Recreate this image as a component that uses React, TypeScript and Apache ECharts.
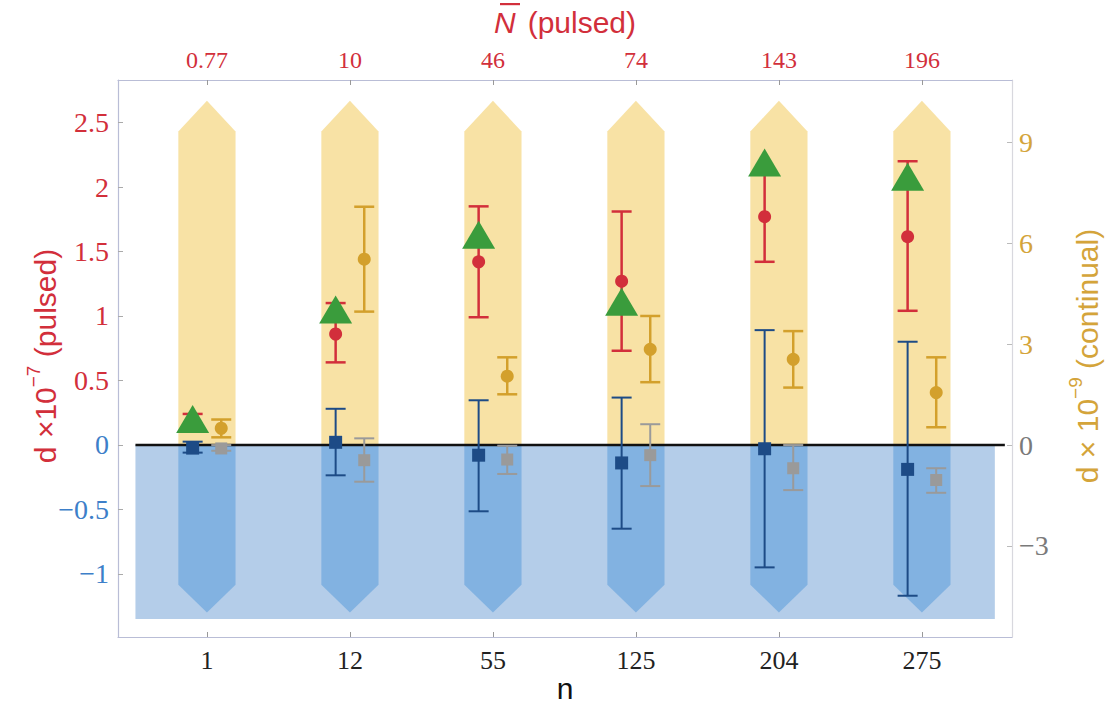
import React, { useEffect, useRef } from "react";
import * as echarts from "echarts";

// ---- data ----
const nLabels = ["1", "12", "55", "125", "204", "275"];
const nbarLabels = ["0.77", "10", "46", "74", "143", "196"];

// pulsed (left axis, ×10^-7)
const pulsedRed = [0.18, 0.86, 1.42, 1.27, 1.77, 1.615];
const pulsedRedLow = [0.13, 0.64, 0.99, 0.73, 1.42, 1.04];
const pulsedRedHigh = [0.24, 1.1, 1.85, 1.81, 2.12, 2.2];
const pulsedGreen = [0.2, 1.05, 1.63, 1.11, 2.19, 2.08];
const pulsedBlue = [-0.025, 0.02, -0.08, -0.14, -0.03, -0.19];
const pulsedBlueLow = [-0.06, -0.236, -0.515, -0.65, -0.95, -1.17];
const pulsedBlueHigh = [0.025, 0.28, 0.346, 0.367, 0.89, 0.8];

// continual (right axis, ×10^-9)
const contGold = [0.5, 5.53, 2.05, 2.85, 2.55, 1.56];
const contGoldLow = [0.23, 3.97, 1.51, 1.87, 1.71, 0.53];
const contGoldHigh = [0.76, 7.09, 2.61, 3.84, 3.39, 2.61];
const contGray = [-0.1, -0.45, -0.43, -0.3, -0.69, -1.04];
const contGrayLow = [-0.17, -1.09, -0.86, -1.22, -1.34, -1.42];
const contGrayHigh = [0, 0.2, -0.02, 0.62, 0, -0.69];

const leftTicks = [-1, -0.5, 0, 0.5, 1, 1.5, 2, 2.5];
const rightTicks = [-3, 0, 3, 6, 9];
const catIdx = [0, 1, 2, 3, 4, 5];

// ---- styling constants ----
const RED = "#d22f3b";
const BLUE_LBL = "#3d7fc9";
const GOLD = "#d3a02c";
const GOLD_LBL = "#d4a43a";
const DKBLUE = "#1d4b86";
const GRAY = "#9a9a9a";
const GREEN = "#3a9c3c";
const AXIS = "#b9bdd6";
const SERIF = "Liberation Serif";
const SANS = "Liberation Sans";

const OFF_L = -0.1;
const OFF_R = 0.1;

const fmt = (v: number) => (v < 0 ? "\u2212" + Math.abs(v) : String(v));

function errorBars(xs: number[], lo: number[], hi: number[], off: number, color: string, width: number, yAxisIndex: number, z: number) {
  return {
    type: "custom",
    xAxisIndex: 0,
    yAxisIndex,
    z,
    silent: true,
    clip: false,
    encode: { x: 0, y: [1, 2] },
    data: xs.map((i) => [i + off, lo[i], hi[i]]),
    renderItem: (params: any, api: any) => {
      const x = api.value(0);
      const a = api.coord([x, api.value(1)]);
      const b = api.coord([x, api.value(2)]);
      const hw = 10;
      const st = { stroke: color, lineWidth: width };
      return {
        type: "group",
        children: [
          { type: "line", shape: { x1: a[0], y1: a[1], x2: b[0], y2: b[1] }, style: st },
          { type: "line", shape: { x1: a[0] - hw, y1: a[1], x2: a[0] + hw, y2: a[1] }, style: st },
          { type: "line", shape: { x1: b[0] - hw, y1: b[1], x2: b[0] + hw, y2: b[1] }, style: st },
        ],
      };
    },
  };
}

function points(vals: number[], off: number, symbol: string, size: any, color: string, yAxisIndex: number, z: number) {
  return {
    type: "scatter",
    xAxisIndex: 0,
    yAxisIndex,
    z,
    silent: true,
    symbol,
    symbolSize: size,
    itemStyle: { color, opacity: 1 },
    data: catIdx.map((i) => [i + off, vals[i]]),
  };
}

export default function App() {
  const ref = useRef<HTMLDivElement>(null);
  useEffect(() => {
    if (!ref.current) return;
    const chart = echarts.init(ref.current, undefined, { renderer: "svg" });

    const X_MIN = -0.622;
    const X_MAX = 5.63;

    const option: any = {
      animation: false,
      backgroundColor: "#ffffff",
      grid: { left: 118, right: 102, top: 80, bottom: 73, containLabel: false },
      xAxis: [
        {
          type: "value",
          position: "bottom",
          min: X_MIN,
          max: X_MAX,
          splitLine: { show: false },
          axisLine: { show: true, onZero: false, lineStyle: { color: AXIS, width: 1.2 } },
          axisTick: { show: true, inside: true, length: 5, customValues: catIdx, lineStyle: { color: "#999" } },
          axisLabel: {
            customValues: catIdx,
            formatter: (v: number) => nLabels[Math.round(v)],
            color: "#222",
            fontFamily: SERIF,
            fontSize: 26,
            margin: 10,
          },
        },
        {
          type: "value",
          position: "top",
          min: X_MIN,
          max: X_MAX,
          splitLine: { show: false },
          axisLine: { show: true, onZero: false, lineStyle: { color: AXIS, width: 1.2 } },
          axisTick: { show: true, inside: true, length: 5, customValues: catIdx, lineStyle: { color: "#999" } },
          axisLabel: {
            customValues: catIdx,
            formatter: (v: number) => nbarLabels[Math.round(v)],
            color: RED,
            fontFamily: SERIF,
            fontSize: 24,
            margin: 8,
          },
        },
      ],
      yAxis: [
        {
          type: "value",
          position: "left",
          min: -1.49,
          max: 2.83,
          splitLine: { show: false },
          axisLine: { show: true, onZero: false, lineStyle: { color: AXIS, width: 1.2 } },
          axisTick: { show: true, inside: true, length: 5, customValues: leftTicks, lineStyle: { color: "#aaa" } },
          axisLabel: {
            customValues: leftTicks,
            formatter: fmt,
            color: (v: any) => (Number(v) > 0 ? RED : BLUE_LBL),
            fontFamily: SERIF,
            fontSize: 28,
            margin: 9,
          },
        },
        {
          type: "value",
          position: "right",
          min: -5.71,
          max: 10.86,
          splitLine: { show: false },
          axisLine: { show: true, onZero: false, lineStyle: { color: "#d8d8de", width: 1.2 } },
          axisTick: { show: true, inside: true, length: 5, customValues: rightTicks, lineStyle: { color: "#bbb" } },
          axisLabel: {
            customValues: rightTicks,
            formatter: fmt,
            color: (v: any) => (Number(v) > 0 ? GOLD_LBL : "#7a7a7a"),
            fontFamily: SERIF,
            fontSize: 28,
            margin: 7,
          },
        },
      ],
      graphic: [
        {
          type: "text",
          x: 565,
          y: 22,
          style: {
            text: "{i|N}{a|(pulsed)}",
            align: "center",
            verticalAlign: "middle",
            rich: {
              i: { fontFamily: SANS, fontSize: 30, fontStyle: "italic", fill: RED, padding: [0, 12, 0, 0] },
              a: { fontFamily: SANS, fontSize: 30, fill: RED },
            },
          },
        },
        {
          type: "rect",
          shape: { x: 500, y: 3, width: 20, height: 2.2 },
          style: { fill: RED },
        },
        {
          type: "text",
          x: 42,
          y: 356,
          rotation: Math.PI / 2,
          style: {
            text: "{a|d \u00d710}{s|\u22127}{a| (pulsed)}",
            align: "center",
            verticalAlign: "middle",
            rich: {
              a: { fontFamily: SANS, fontSize: 30, fill: RED, lineHeight: 36, verticalAlign: "bottom" },
              s: { fontFamily: SANS, fontSize: 19, fill: RED, lineHeight: 36, verticalAlign: "top" },
            },
          },
        },
        {
          type: "text",
          x: 1084,
          y: 356,
          rotation: Math.PI / 2,
          style: {
            text: "{a|d \u00d7 10}{s|\u22129}{a| (continual)}",
            align: "center",
            verticalAlign: "middle",
            rich: {
              a: { fontFamily: SANS, fontSize: 30, fill: GOLD_LBL, lineHeight: 36, verticalAlign: "bottom" },
              s: { fontFamily: SANS, fontSize: 19, fill: GOLD_LBL, lineHeight: 36, verticalAlign: "top" },
            },
          },
        },
        {
          type: "text",
          x: 565,
          y: 688,
          style: {
            text: "n",
            align: "center",
            verticalAlign: "middle",
            fontFamily: SANS,
            fontSize: 30,
            fill: "#111",
          },
        },
      ],
      series: [
        // light blue band below zero
        {
          type: "custom",
          xAxisIndex: 0,
          yAxisIndex: 0,
          z: 1,
          silent: true,
          clip: false,
          data: [[-0.5, 5.51, 0, -1.35]],
          renderItem: (params: any, api: any) => {
            const p1 = api.coord([api.value(0), api.value(2)]);
            const p2 = api.coord([api.value(1), api.value(3)]);
            return {
              type: "rect",
              shape: { x: p1[0], y: p1[1], width: p2[0] - p1[0], height: p2[1] - p1[1] },
              style: { fill: "#b4cde9" },
            };
          },
        },
        // arrows: yellow up, blue down
        {
          type: "custom",
          xAxisIndex: 0,
          yAxisIndex: 0,
          z: 2,
          silent: true,
          clip: false,
          data: catIdx.map((i) => [i]),
          renderItem: (params: any, api: any) => {
            const c = api.value(0);
            const hw = 0.2;
            const up = [
              [c - hw, 0],
              [c - hw, 2.43],
              [c, 2.67],
              [c + hw, 2.43],
              [c + hw, 0],
            ].map((p) => api.coord(p));
            const dn = [
              [c - hw, 0],
              [c - hw, -1.085],
              [c, -1.3],
              [c + hw, -1.085],
              [c + hw, 0],
            ].map((p) => api.coord(p));
            return {
              type: "group",
              children: [
                { type: "polygon", shape: { points: up }, style: { fill: "#f8e2a5" } },
                { type: "polygon", shape: { points: dn }, style: { fill: "#82b2e1" } },
              ],
            };
          },
        },
        // zero line
        {
          type: "custom",
          xAxisIndex: 0,
          yAxisIndex: 0,
          z: 3,
          silent: true,
          clip: false,
          data: [[-0.5, 5.58]],
          renderItem: (params: any, api: any) => {
            const a = api.coord([api.value(0), 0]);
            const b = api.coord([api.value(1), 0]);
            return {
              type: "line",
              shape: { x1: a[0], y1: a[1], x2: b[0], y2: b[1] },
              style: { stroke: "#111", lineWidth: 2.5 },
            };
          },
        },
        errorBars(catIdx, pulsedBlueLow, pulsedBlueHigh, OFF_L, DKBLUE, 2, 0, 4),
        errorBars(catIdx, contGrayLow, contGrayHigh, OFF_R, GRAY, 2, 1, 4),
        errorBars(catIdx, contGoldLow, contGoldHigh, OFF_R, GOLD, 2.5, 1, 4),
        errorBars(catIdx, pulsedRedLow, pulsedRedHigh, OFF_L, RED, 2.5, 0, 4),
        points(pulsedBlue, OFF_L, "rect", 13, DKBLUE, 0, 5),
        points(contGray, OFF_R, "rect", 12, GRAY, 1, 5),
        points(contGold, OFF_R, "circle", 13, GOLD, 1, 5),
        points(pulsedRed, OFF_L, "circle", 13, RED, 0, 5),
        points(pulsedGreen, OFF_L, "triangle", [33, 28], GREEN, 0, 6),
      ],
    };

    chart.setOption(option);
    return () => chart.dispose();
  }, []);

  return (
    <div
      ref={ref}
      style={{ position: "fixed", left: 0, top: 0, width: 1114, height: 710, background: "#fff" }}
    />
  );
}
